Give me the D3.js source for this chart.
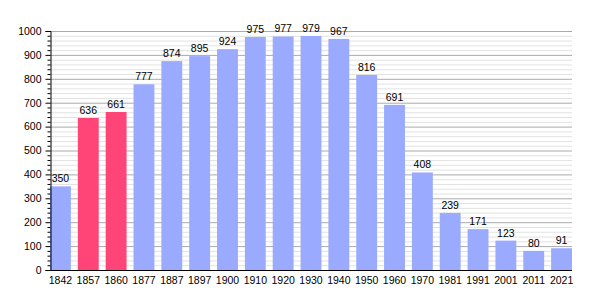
<!DOCTYPE html>
<html>
<head>
<meta charset="utf-8">
<script src="https://cdn.jsdelivr.net/npm/d3@7"></script>
<style>
  body { margin: 0; background: #fff; }
  svg text { font-family: "Liberation Sans", Arial, sans-serif; }
</style>
</head>
<body>
<script>
// données
const years = ["1842","1857","1860","1877","1887","1897","1900","1910","1920","1930","1940","1950","1960","1970","1981","1991","2001","2011","2021"];
const population = [350,636,661,777,874,895,924,975,977,979,967,816,691,408,239,171,123,80,91];
const highlighted = ["1857","1860"];
const yTicks = [0,100,200,300,400,500,600,700,800,900,1000];

const width = 600, height = 300;
const margin = {top: 31, right: 28, bottom: 30, left: 50};
const fontSize = 10.5;

const svg = d3.select("body").append("svg")
  .attr("width", width)
  .attr("height", height);

const x = d3.scaleBand()
  .domain(years)
  .range([margin.left, width - margin.right])
  .paddingInner(0.25)
  .paddingOuter(0);

const y = d3.scaleLinear()
  .domain([0, 1000])
  .range([height - margin.bottom, margin.top]);

const minor = d3.range(0, 1001, 20).filter(v => v % 100 !== 0);

// grille secondaire
svg.append("g")
  .selectAll("line")
  .data(minor)
  .join("line")
  .attr("x1", margin.left).attr("x2", width - margin.right)
  .attr("y1", d => y(d) + 0.5).attr("y2", d => y(d) + 0.5)
  .attr("stroke", "#e2e2e2")
  .attr("stroke-width", 1);

// grille principale
svg.append("g")
  .selectAll("line")
  .data(yTicks.slice(1))
  .join("line")
  .attr("x1", margin.left).attr("x2", width - margin.right)
  .attr("y1", d => y(d) + 0.5).attr("y2", d => y(d) + 0.5)
  .attr("stroke", "#aaaaaa")
  .attr("stroke-width", 1);

// barres
svg.append("g")
  .selectAll("rect")
  .data(years)
  .join("rect")
  .attr("x", d => x(d))
  .attr("y", (d, i) => y(population[i]))
  .attr("width", x.bandwidth())
  .attr("height", (d, i) => y(0) - y(population[i]))
  .attr("fill", d => highlighted.includes(d) ? "#ff4477" : "#99aaff");

// valeurs
svg.append("g")
  .selectAll("text")
  .data(years)
  .join("text")
  .attr("x", d => x(d) + x.bandwidth() / 2)
  .attr("y", (d, i) => y(population[i]) - 4)
  .attr("text-anchor", "middle")
  .attr("font-size", fontSize)
  .attr("fill", "#000")
  .text((d, i) => population[i]);

// axe Y
const yAxis = svg.append("g")
  .attr("transform", `translate(${margin.left + 0.5},0)`)
  .call(d3.axisLeft(y).tickValues(yTicks).tickSize(5).tickPadding(4).tickFormat(d3.format("d")));
yAxis.select(".domain").attr("stroke", "#000");
yAxis.selectAll("text").attr("font-size", fontSize).attr("fill", "#000").attr("font-family", "Liberation Sans, Arial, sans-serif");

svg.append("g")
  .attr("transform", `translate(${margin.left + 0.5},0)`)
  .selectAll("line")
  .data(minor)
  .join("line")
  .attr("x1", -3).attr("x2", 0)
  .attr("y1", d => y(d) + 0.5).attr("y2", d => y(d) + 0.5)
  .attr("stroke", "#000");

// axe X
const xAxis = svg.append("g")
  .attr("transform", `translate(0,${height - margin.bottom + 0.5})`)
  .call(d3.axisBottom(x).tickSize(0).tickPadding(6));
xAxis.select(".domain").attr("stroke", "#000").attr("d", `M${margin.left},0H${width - margin.right}`);
xAxis.selectAll("text").attr("font-size", fontSize).attr("fill", "#000").attr("font-family", "Liberation Sans, Arial, sans-serif");
</script>
</body>
</html>
